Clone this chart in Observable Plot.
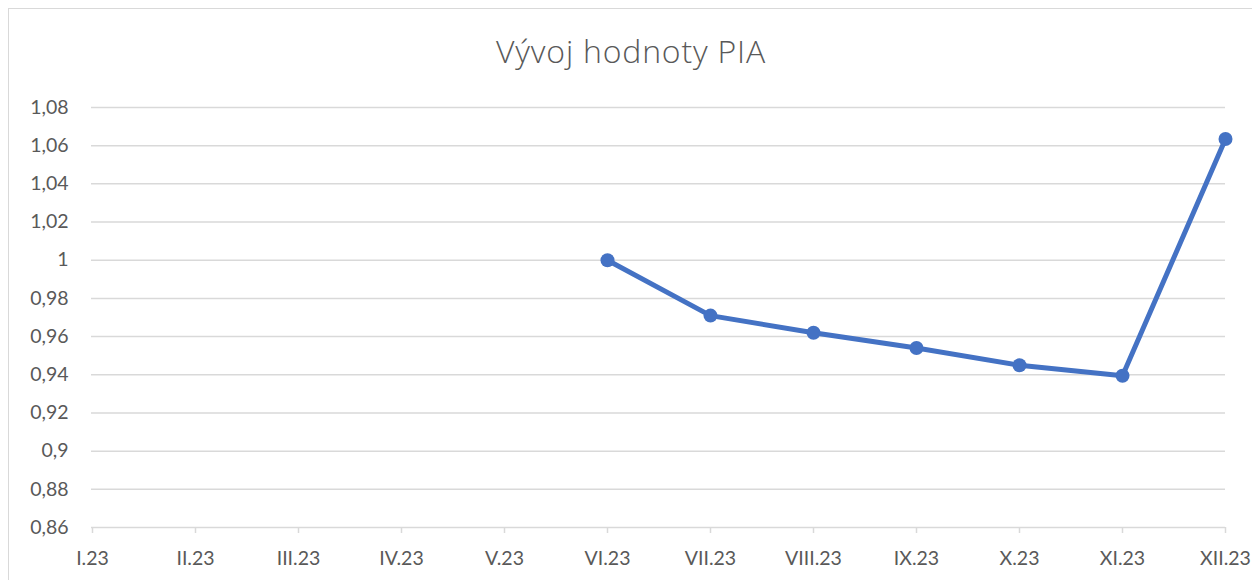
<!DOCTYPE html>
<html>
<head>
<meta charset="utf-8">
<script src="https://cdn.jsdelivr.net/npm/d3@7"></script>
<script src="https://cdn.jsdelivr.net/npm/@observablehq/plot@0.6"></script>
<style>
  html, body { margin: 0; padding: 0; background: #fff; }
  #wrap { position: relative; width: 1252px; height: 580px; overflow: hidden; }
  #frame { position: absolute; left: 8px; top: 8px; width: 1300px; height: 700px; border: 1px solid #d9d9d9; box-sizing: border-box; pointer-events: none; }
  #title { height: 90px; box-sizing: border-box; padding-top: 33px; padding-left: 10px; text-align: center;
           font-family: "Open Sans", Lato, sans-serif; font-weight: 300; font-size: 32px; letter-spacing: 0.8px; line-height: 36px; color: #595959; }
  #chart svg { display: block; }
</style>
</head>
<body>
<div id="wrap">
  <div id="frame"></div>
  <div id="title">Vývoj hodnoty PIA</div>
  <div id="chart"></div>
</div>
<script>
const months = ["I.23", "II.23", "III.23", "IV.23", "V.23", "VI.23", "VII.23", "VIII.23", "IX.23", "X.23", "XI.23", "XII.23"];
const pia = [null, null, null, null, null, 1.000, 0.971, 0.962, 0.954, 0.945, 0.9395, 1.0635];
const yTicks = [0.86, 0.88, 0.90, 0.92, 0.94, 0.96, 0.98, 1.00, 1.02, 1.04, 1.06, 1.08];

const data = months.map((m, i) => ({month: m, value: pia[i]})).filter(d => d.value != null);
const fmt = d => d3.format(".2~f")(d).replace(".", ",");

const chart = Plot.plot({
  width: 1252,
  height: 490,
  marginTop: 17,
  marginBottom: 53,
  marginLeft: 91,
  marginRight: 27,
  style: {fontFamily: "Lato, 'Open Sans', sans-serif", fontSize: "19.5px", color: "#595959", background: "transparent"},
  x: {type: "point", domain: months, padding: 0},
  y: {domain: [0.86, 1.08]},
  marks: [
    Plot.ruleY(yTicks, {stroke: "#d9d9d9", strokeWidth: 1.5}),
    Plot.axisX({tickSize: 6, tickPadding: 18, stroke: "#d9d9d9", strokeWidth: 1.5, fill: "#595959", label: null}),
    Plot.axisY({ticks: yTicks, tickSize: 0, tickPadding: 23, tickFormat: fmt, fill: "#595959", label: null}),
    Plot.line(data, {x: "month", y: "value", stroke: "#4472C4", strokeWidth: 5, strokeLinejoin: "round", strokeLinecap: "round"}),
    Plot.dot(data, {x: "month", y: "value", r: 7, fill: "#4472C4", stroke: "none"})
  ]
});
document.getElementById("chart").appendChild(chart);
</script>
</body>
</html>
